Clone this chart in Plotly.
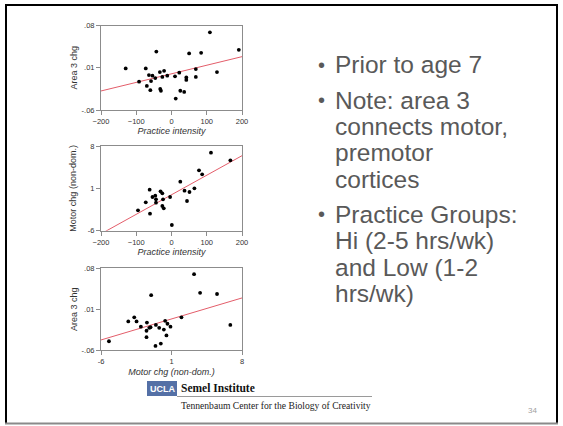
import plotly.graph_objects as go

W, H = 563, 426

# ---------------- data ----------------
# Plot 1: Practice intensity vs Area 3 chg
p1_x = [-130, -73, -92, -70, -64, -54, -58, -60, -46, -43, -33, -21, -26, -12, -32, -30,
        10, 12, 22, 25, 36, 42, 42, 50, 69, 69, 84, 109, 129, 191]
p1_y = [0.009, 0.009, -0.013, -0.020, -0.002, -0.003, -0.012, -0.027, -0.007, 0.037, 0.003,
        0.005, -0.005, -0.003, -0.025, -0.028, -0.004, -0.041, 0.002, -0.028, -0.030,
        -0.006, -0.010, 0.034, 0.008, -0.005, 0.035, 0.069, 0.003, 0.040]
fit1_x = [-200, 200]
fit1_y = [-0.0284, 0.0286]

# Plot 2: Practice intensity vs Motor chg (non-dom.)
p2_x = [-95, -73, -61, -62, -54, -46, -44, -44, -31, -26, -24, -26, -22, -4, 1,
        25, 37, 44, 51, 65, 78, 87, 112, 167]
p2_y = [-2.64, -1.31, -3.19, 0.78, -0.43, -0.21, -0.82, -1.37, 0.51, 0.18, -0.82, -1.92,
        -2.30, -0.43, -5.06, 2.10, 0.62, -1.09, 0.40, 1.00, 3.98, 3.32, 6.90, 5.63]
fit2_x = [-200, 200]
fit2_y = [-6.52, 6.40]

# Plot 3: Motor chg (non-dom.) vs Area 3 chg
p3_x = [-5.21, -3.29, -2.70, -2.47, -2.04, -1.44, -1.48, -1.48, -1.21, -1.08, -1.02, -0.55,
        -0.59, -0.22, -0.06, 0.24, 0.37, 0.50, 0.60, 0.90, 1.99, 3.24, 3.84, 5.52, 6.84]
p3_y = [-0.045, -0.011, -0.004, -0.011, -0.020, -0.013, -0.027, -0.038, -0.022, -0.021,
        0.034, -0.017, -0.053, -0.022, -0.049, -0.025, -0.010, -0.035, -0.015, -0.020,
        -0.004, 0.070, 0.038, 0.036, -0.017]
fit3_x = [-6, 8]
fit3_y = [-0.0428, 0.0292]

area_ticks = [-0.06, 0.01, 0.08]
area_ticktext = ["-.06", ".01", ".08"]
motor_ticks = [-6, 1, 8]
motor_ticktext = ["-6", "1", "8"]
practice_ticks = [-200, -100, 0, 100, 200]

bullets = [
    ("\u2022", "Prior to age 7"),
    ("\u2022", "Note: area 3"),
    ("", "connects motor,"),
    ("", "premotor"),
    ("", "cortices"),
    ("\u2022", "Practice Groups:"),
    ("", "Hi (2-5 hrs/wk)"),
    ("", "and Low (1-2"),
    ("", "hrs/wk)"),
]
bullet_y_px = [65, 100, 126.5, 153, 179.5, 214, 240.5, 267, 293.5]

# ---------------- helpers ----------------
def px(xp):
    return xp / W

def py(yp):
    return 1 - yp / H

FONT = "Liberation Sans, Arial, sans-serif"
SERIF = "Liberation Serif, Times New Roman, serif"
AXCOL = "#8c8c8c"
TXT = "#333333"
LINECOL = "#e35d6a"

fig = go.Figure()

panels = [
    (p1_x, p1_y, fit1_x, fit1_y, "x", "y"),
    (p2_x, p2_y, fit2_x, fit2_y, "x2", "y2"),
    (p3_x, p3_y, fit3_x, fit3_y, "x3", "y3"),
]
for xs, ys, fx, fy, xa, ya in panels:
    fig.add_trace(go.Scatter(x=fx, y=fy, mode="lines", xaxis=xa, yaxis=ya,
                             line=dict(color=LINECOL, width=1), showlegend=False,
                             hoverinfo="skip"))
    fig.add_trace(go.Scatter(x=xs, y=ys, mode="markers", xaxis=xa, yaxis=ya,
                             marker=dict(color="black", size=3.8, symbol="circle"),
                             showlegend=False))

common = dict(showline=True, mirror=True, linecolor=AXCOL, linewidth=1,
              ticks="outside", ticklen=4, tickcolor=AXCOL, tickwidth=1,
              showgrid=False, zeroline=False, automargin=False,
              tickfont=dict(family=FONT, size=7.5, color=TXT))

x_dom = [px(101), px(242)]
doms = [(py(110), py(25.7)), (py(230.7), py(146)), (py(350), py(268.3))]

fig.update_layout(
    width=W, height=H, margin=dict(l=0, r=0, t=0, b=0),
    paper_bgcolor="white", plot_bgcolor="white",
    font=dict(family=FONT, color=TXT),
    xaxis=dict(common, domain=x_dom, anchor="y", range=[-200, 200],
               tickvals=practice_ticks,
               title=dict(text="<i>Practice intensity</i>", standoff=0,
                          font=dict(family=FONT, size=9, color=TXT))),
    yaxis=dict(common, domain=list(doms[0]), anchor="x", range=[-0.06, 0.08],
               tickvals=area_ticks, ticktext=area_ticktext,
               title=dict(text="Area 3 chg", standoff=2,
                          font=dict(family=FONT, size=9, color=TXT))),
    xaxis2=dict(common, domain=x_dom, anchor="y2", range=[-200, 200],
                tickvals=practice_ticks,
                title=dict(text="<i>Practice intensity</i>", standoff=1,
                           font=dict(family=FONT, size=9, color=TXT))),
    yaxis2=dict(common, domain=list(doms[1]), anchor="x2", range=[-6, 8],
                tickvals=motor_ticks, ticktext=motor_ticktext,
                title=dict(text="Motor chg (non-dom.)", standoff=9,
                           font=dict(family=FONT, size=9, color=TXT))),
    xaxis3=dict(common, domain=x_dom, anchor="y3", range=[-6, 8],
                tickvals=motor_ticks, ticktext=motor_ticktext,
                title=dict(text="<i>Motor chg (non-dom.)</i>", standoff=3,
                           font=dict(family=FONT, size=9, color=TXT))),
    yaxis3=dict(common, domain=list(doms[2]), anchor="x3", range=[-0.06, 0.08],
                tickvals=area_ticks, ticktext=area_ticktext,
                title=dict(text="Area 3 chg", standoff=2,
                           font=dict(family=FONT, size=9, color=TXT))),
)

# ---------------- slide frame ----------------
shapes = [
    dict(type="line", xref="paper", yref="paper", x0=px(6), x1=px(6), y0=py(4), y1=py(423),
         line=dict(color="black", width=2)),
    dict(type="line", xref="paper", yref="paper", x0=px(5), x1=px(557), y0=py(5), y1=py(5),
         line=dict(color="black", width=2)),
    dict(type="line", xref="paper", yref="paper", x0=px(557), x1=px(557), y0=py(4), y1=py(423),
         line=dict(color="black", width=2)),
    dict(type="line", xref="paper", yref="paper", x0=px(5), x1=px(558), y0=py(423.5), y1=py(423.5),
         line=dict(color="#8a8a8a", width=2)),
    # UCLA box
    dict(type="rect", xref="paper", yref="paper", x0=px(147), x1=px(177), y0=py(396), y1=py(381),
         fillcolor="#5470a6", line=dict(width=0)),
    dict(type="line", xref="paper", yref="paper", x0=px(177), x1=px(372), y0=py(396.5), y1=py(396.5),
         line=dict(color="#9a9a9a", width=1)),
]
fig.update_layout(shapes=shapes)

ann = []
for (b, t), yy in zip(bullets, bullet_y_px):
    if b:
        ann.append(dict(x=px(316), y=py(yy), xref="paper", yref="paper", text=b,
                        showarrow=False, xanchor="left", yanchor="middle",
                        font=dict(family=FONT, size=20, color="#595959")))
    ann.append(dict(x=px(333), y=py(yy), xref="paper", yref="paper", text=t,
                    showarrow=False, xanchor="left", yanchor="middle",
                    font=dict(family=FONT, size=24.5, color="#595959")))

ann += [
    dict(x=px(162), y=py(388.5), xref="paper", yref="paper", text="<b>UCLA</b>",
         showarrow=False, xanchor="center", yanchor="middle",
         font=dict(family=FONT, size=9, color="white")),
    dict(x=px(179), y=py(388), xref="paper", yref="paper", text="<b>Semel Institute</b>",
         showarrow=False, xanchor="left", yanchor="middle",
         font=dict(family=SERIF, size=11.5, color="#111111")),
    dict(x=px(179), y=py(405), xref="paper", yref="paper",
         text="Tennenbaum Center for the Biology of Creativity",
         showarrow=False, xanchor="left", yanchor="middle",
         font=dict(family=SERIF, size=9.6, color="#222222")),
    dict(x=px(532), y=py(410), xref="paper", yref="paper", text="34",
         showarrow=False, xanchor="center", yanchor="middle",
         font=dict(family=FONT, size=8, color="#a0a0a0")),
]
fig.update_layout(annotations=ann)

fig.write_html("out.html")
